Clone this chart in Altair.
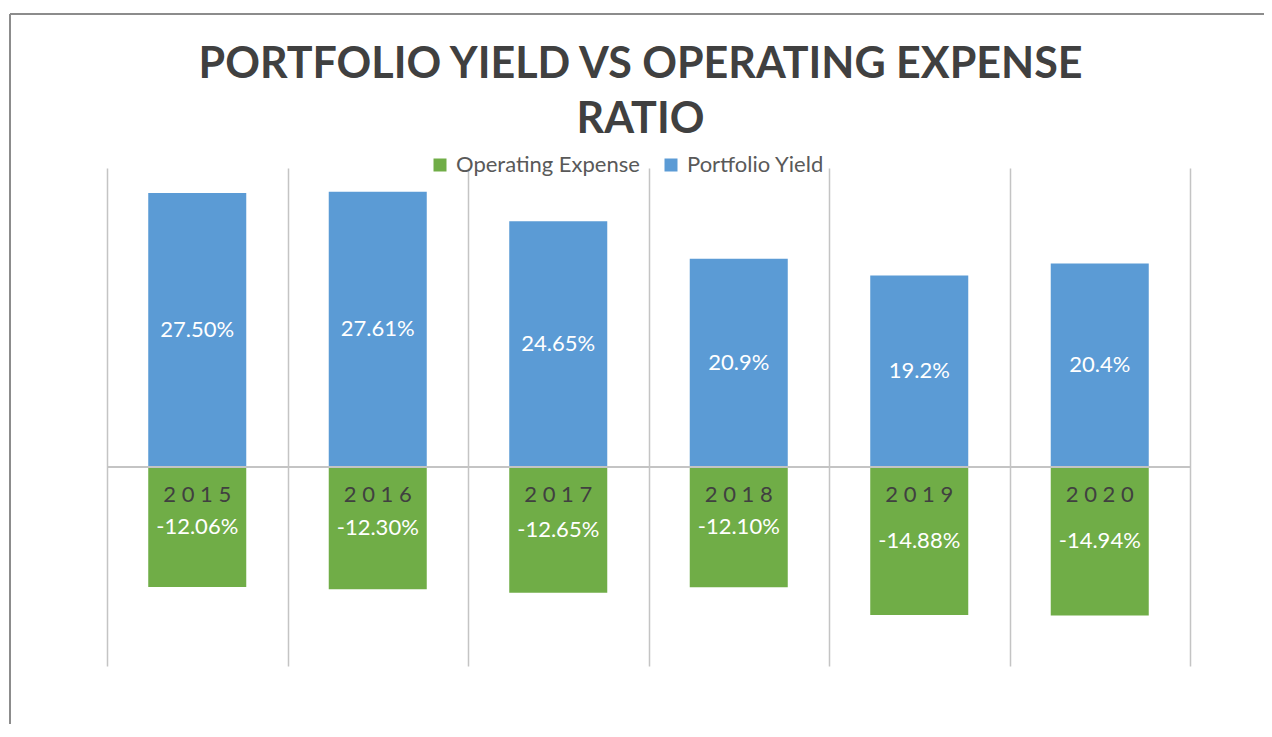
import altair as alt
import pandas as pd

years = ["2015", "2016", "2017", "2018", "2019", "2020"]
portfolio_yield = [27.50, 27.61, 24.65, 20.9, 19.2, 20.4]
yield_decimals = [2, 2, 2, 1, 1, 1]
operating_expense = [-12.06, -12.30, -12.65, -12.10, -14.88, -14.94]
expense_decimals = [2, 2, 2, 2, 2, 2]
series_names = ["Operating Expense", "Portfolio Yield"]
series_colors = ["#70ad47", "#5b9bd5"]

rows = []
for y, v, d in zip(years, operating_expense, expense_decimals):
    rows.append({"year": y, "series": "Operating Expense", "value": v,
                 "label": f"{v:.{d}f}%"})
for y, v, d in zip(years, portfolio_yield, yield_decimals):
    rows.append({"year": y, "series": "Portfolio Yield", "value": v,
                 "label": f"{v:.{d}f}%"})
df = pd.DataFrame(rows)
years_df = pd.DataFrame({"year": years})

FONT = "Lato"
x_scale = alt.Scale(paddingInner=0, paddingOuter=0)
x_enc = alt.X("year:N", sort=years, scale=x_scale,
              axis=alt.Axis(title=None, labels=False, ticks=False, domain=False,
                            grid=True, tickBand="extent", gridColor="#c4c4c4",
                            gridWidth=1.5))
y_scale = alt.Scale(domain=[-20, 30], nice=False, zero=False)

bars = alt.Chart(df).mark_bar(width=alt.RelativeBandSize(0.543)).encode(
    x=x_enc,
    y=alt.Y("value:Q", scale=y_scale, axis=None),
    color=alt.Color("series:N",
                    scale=alt.Scale(domain=series_names, range=series_colors),
                    legend=alt.Legend(title=None, orient="none", direction="horizontal",
                                      legendX=322, legendY=-14,
                                      symbolType="square", symbolSize=169,
                                      symbolStrokeWidth=0, labelFont=FONT,
                                      labelFontSize=22, labelColor="#595959",
                                      labelLimit=0, labelOffset=5, columnPadding=20)),
)

zero_line = alt.Chart(years_df).mark_rule(color="#c4c4c4", strokeWidth=1.5).encode(
    y=alt.YDatum(0)
)

value_labels = alt.Chart(df).transform_calculate(
    mid="datum.value / 2"
).mark_text(font=FONT, fontSize=22, color="white", baseline="middle").encode(
    x=alt.X("year:N", sort=years),
    y=alt.Y("mid:Q"),
    text="label:N",
)

year_labels = alt.Chart(years_df).transform_calculate(
    spaced="join(split(datum.year, ''), ' ')"
).mark_text(font=FONT, fontSize=22, color="#404040", baseline="middle", dy=28).encode(
    x=alt.X("year:N", sort=years),
    y=alt.YDatum(0),
    text="spaced:N",
)

border_top = alt.Chart(years_df).mark_rule(color="#8c8c8c", strokeWidth=1.5).encode(
    x=alt.value(-97), x2=alt.value(1160), y=alt.value(-154)
)
border_left = alt.Chart(years_df).mark_rule(color="#8c8c8c", strokeWidth=1.5).encode(
    x=alt.value(-97), y=alt.value(-154), y2=alt.value(560)
)

chart = alt.layer(bars, zero_line, value_labels, year_labels, border_top, border_left).properties(
    width=1083, height=498,
    autosize=alt.AutoSizeParams(type="none"),
    padding={"left": 99, "top": 160, "right": 74, "bottom": 58},
    title=alt.TitleParams(
        text=["PORTFOLIO YIELD VS OPERATING EXPENSE", "RATIO"],
        font=FONT, fontSize=43, fontWeight="bold", color="#404040",
        lineHeight=55, anchor="middle", offset=-129, dx=-8,
    ),
).configure(background="white").configure_view(strokeWidth=0)

chart.save("out.html", embed_options={"renderer": "svg", "actions": False})
